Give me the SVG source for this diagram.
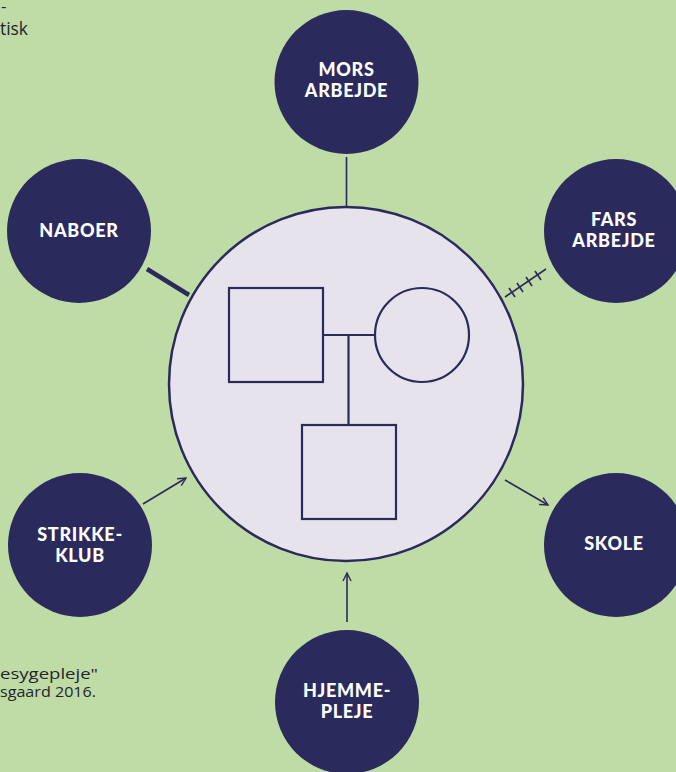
<svg xmlns="http://www.w3.org/2000/svg" width="676" height="772" viewBox="0 0 676 772">
<defs>
<style>
.bg{fill:#bfdba6}
.node{fill:#2a2a5c}
.lbl{fill:#ffffff;font-family:"Lato","Open Sans",sans-serif;font-weight:900;font-size:18px;letter-spacing:0.7px;text-anchor:middle}
.ln{stroke:#2a2a5c;stroke-width:1.6;fill:none}
.sym{stroke:#2a2a5c;stroke-width:2.2;fill:none}
.note{fill:#24242c;font-family:"Open Sans","Liberation Sans",sans-serif}
</style>
<marker id="ah" viewBox="0 0 10 10" refX="9" refY="5" markerWidth="10" markerHeight="10" markerUnits="userSpaceOnUse" orient="auto">
<path d="M1,1 L9,5 L1,9" fill="none" stroke="#2a2a5c" stroke-width="1.4"/>
</marker>
</defs>
<rect class="bg" x="0" y="0" width="676" height="772"/>
<text class="note" x="1" y="12" font-size="17">-</text>
<text class="note" x="0" y="35" font-size="19" textLength="28" lengthAdjust="spacingAndGlyphs">tisk</text>
<text class="note" x="0" y="679" font-size="14" textLength="98" lengthAdjust="spacingAndGlyphs">esygepleje"</text>
<text class="note" x="0" y="697" font-size="14" textLength="96" lengthAdjust="spacingAndGlyphs">sgaard 2016.</text>

<g id="connectors">
<line class="ln" x1="346.5" y1="157" x2="346.5" y2="207"/>
<line x1="147" y1="269" x2="189" y2="295" stroke="#2a2a5c" stroke-width="4.5"/>
<g>
<line class="ln" x1="505" y1="297" x2="546" y2="269"/>
<line class="ln" x1="509" y1="288" x2="515" y2="297"/>
<line class="ln" x1="517" y1="283" x2="523" y2="292"/>
<line class="ln" x1="526" y1="277" x2="532" y2="286"/>
<line class="ln" x1="535" y1="271" x2="541" y2="280"/>
</g>
<line class="ln" x1="143" y1="504" x2="186" y2="478" marker-end="url(#ah)"/>
<line class="ln" x1="505" y1="480" x2="548" y2="505" marker-end="url(#ah)"/>
<line class="ln" x1="347" y1="622" x2="347" y2="573" marker-end="url(#ah)"/>
</g>

<g id="family">
<circle cx="346" cy="384" r="177" fill="#e6e3ec" stroke="#2a2a5c" stroke-width="2.5"/>
<rect class="sym" x="229" y="288" width="94" height="94"/>
<circle class="sym" cx="422" cy="335" r="47"/>
<line class="sym" x1="323" y1="335" x2="375" y2="335"/>
<line class="sym" x1="348.5" y1="335" x2="348.5" y2="425"/>
<rect class="sym" x="302" y="425" width="94" height="94"/>
</g>

<g id="mors">
<circle class="node" cx="346.5" cy="82" r="72"/>
<text class="lbl" x="346.5" y="76">MORS</text>
<text class="lbl" x="346.5" y="97">ARBEJDE</text>
</g>
<g id="naboer">
<circle class="node" cx="79" cy="231" r="72"/>
<text class="lbl" x="79" y="237">NABOER</text>
</g>
<g id="fars">
<circle class="node" cx="616" cy="231" r="72"/>
<text class="lbl" x="614" y="226">FARS</text>
<text class="lbl" x="614" y="247">ARBEJDE</text>
</g>
<g id="strikke">
<circle class="node" cx="80" cy="545" r="72"/>
<text class="lbl" x="80" y="541">STRIKKE-</text>
<text class="lbl" x="80" y="562">KLUB</text>
</g>
<g id="skole">
<circle class="node" cx="616" cy="545" r="72"/>
<text class="lbl" x="614" y="550">SKOLE</text>
</g>
<g id="hjemme">
<circle class="node" cx="347" cy="702" r="72"/>
<text class="lbl" x="347" y="697">HJEMME-</text>
<text class="lbl" x="347" y="718">PLEJE</text>
</g>
</svg>
